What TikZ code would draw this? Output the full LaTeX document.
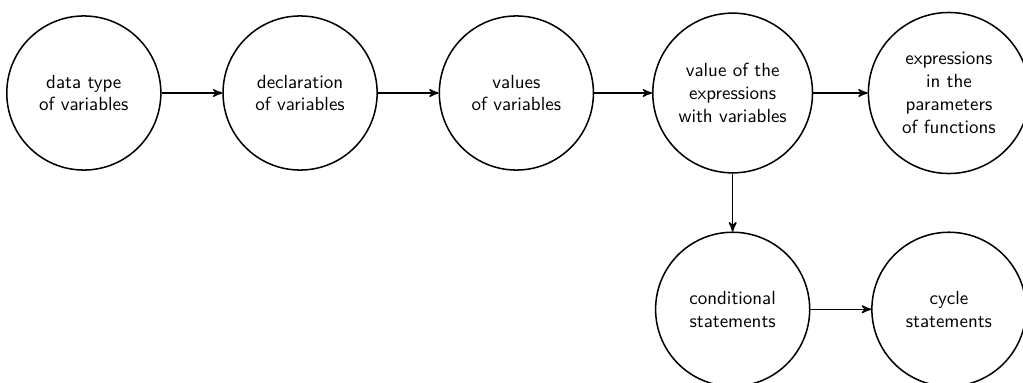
\documentclass[tikz,border=0pt]{standalone}
\usepackage{tikz}
\usetikzlibrary{arrows}

\begin{document}
\begin{tikzpicture}[
        topic/.style={draw, thick, circle, align=center, font=\sffamily,
                minimum size=2.85cm, inner sep=7pt},
        link/.style={thick, -stealth'}]
        \useasboundingbox (-1.55,-5.35) rectangle (17.37,1.72);
        \node[topic] (dtype) at (0,0) {data type\\of variables};
        \node[topic] (decl) at (4,0) {declaration\\of variables};
        \node[topic] (vals) at (8,0) {values\\of variables};
        \node[topic] (expr) at (12,0) {value of the\\expressions\\with variables};
        \node[topic] (params) at (16,0) {expressions\\in the\\parameters\\of functions};
        \node[topic] (cond) at (12,-4) {conditional\\statements};
        \node[topic] (cycle) at (16,-4) {cycle\\statements};
        \draw[link] (dtype)--(decl);
        \draw[link] (decl)--(vals);
        \draw[link] (vals)--(expr);
        \draw[link] (expr)--(params);
        \draw[link] (expr)--(cond);
        \draw[link] (cond)--(cycle);
    \end{tikzpicture}
\end{document}
